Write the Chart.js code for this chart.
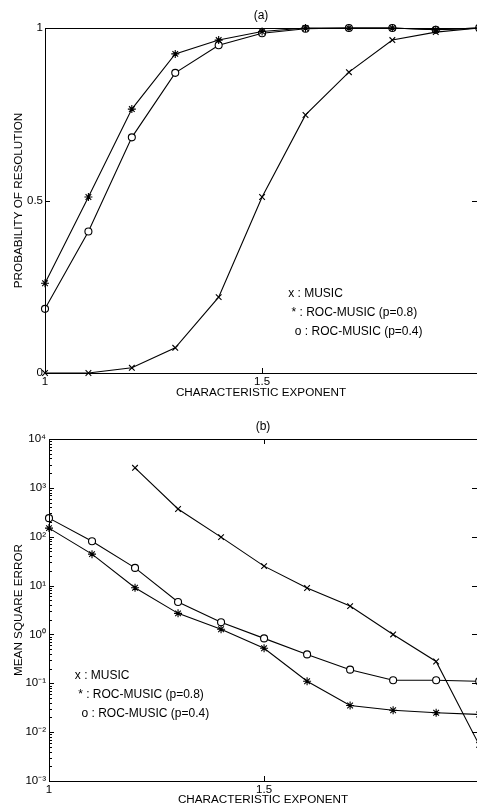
<!DOCTYPE html>
<html>
<head>
<meta charset="utf-8">
<script src="https://cdn.jsdelivr.net/npm/chart.js@4"></script>
<style>
html, body { margin: 0; padding: 0; background: #fff; }
.box { position: relative; width: 477px; height: 404px; }
</style>
</head>
<body>
<div class="box"><canvas id="chartA"></canvas></div>
<div class="box"><canvas id="chartB"></canvas></div>
<script>
// characteristic exponent (x axis)
var alphas = [1.0, 1.1, 1.2, 1.3, 1.4, 1.5, 1.6, 1.7, 1.8, 1.9, 2.0];
var alphaTicks = [1, 1.5];

// (a) probability of resolution
var probMusic = [0, 0, 0.015, 0.073, 0.22, 0.51, 0.748, 0.872, 0.965, 0.988, 1];
var probRoc08 = [0.26, 0.51, 0.765, 0.925, 0.965, 0.99, 1, 1, 1, 0.995, 1];
var probRoc04 = [0.186, 0.41, 0.683, 0.87, 0.95, 0.985, 0.998, 1, 1, 0.995, 1];
var probTicks = [0, 0.5, 1];

// (b) mean square error
var mseMusic = [null, null, 2570, 370, 98, 25, 8.9, 3.8, 1.0, 0.28, 0.0055];
var mseRoc08 = [150, 44, 9, 2.7, 1.28, 0.52, 0.11, 0.035, 0.028, 0.025, 0.023];
var mseRoc04 = [240, 81, 23, 4.6, 1.78, 0.83, 0.39, 0.19, 0.115, 0.115, 0.11];
var mseTicks = [1e-3, 1e-2, 1e-1, 1e0, 1e1, 1e2, 1e3, 1e4];
var mseTickLabels = ["10\u207B\u00B3", "10\u207B\u00B2", "10\u207B\u00B9", "10\u2070", "10\u00B9", "10\u00B2", "10\u00B3", "10\u2074"];

var legendLines = ["x : MUSIC", " * : ROC-MUSIC (p=0.8)", "  o : ROC-MUSIC (p=0.4)"];

var FONT = "'Liberation Sans', Arial, sans-serif";
Chart.defaults.font.family = FONT;
Chart.defaults.color = "#000";

function pts(ys) {
  return alphas.map(function(a, i) { return { x: a, y: ys[i] }; });
}

function series(label, ys, style, r) {
  return {
    label: label,
    data: pts(ys),
    borderColor: "#000",
    borderWidth: 1.1,
    pointStyle: style,
    pointRadius: r,
    pointBorderColor: "#000",
    pointBackgroundColor: "#fff",
    pointBorderWidth: 1.1,
    pointHoverRadius: r,
    tension: 0,
    clip: false,
    spanGaps: false
  };
}

// frame, inner ticks, panel label and text legend
function decorations(title, legX, legY) {
  return {
    id: "decor",
    afterDraw: function(chart) {
      var ctx = chart.ctx, a = chart.chartArea;
      var xs = chart.scales.x, ys = chart.scales.y;
      ctx.save();
      ctx.strokeStyle = "#000";
      ctx.lineWidth = 1;
      ctx.strokeRect(a.left + 0.5, a.top + 0.5, a.right - a.left, a.bottom - a.top);
      ctx.beginPath();
      xs.ticks.forEach(function(t) {
        var px = Math.round(xs.getPixelForValue(t.value)) + 0.5;
        ctx.moveTo(px, a.bottom); ctx.lineTo(px, a.bottom - 5);
        ctx.moveTo(px, a.top); ctx.lineTo(px, a.top + 5);
      });
      ys.ticks.forEach(function(t) {
        var py = Math.round(ys.getPixelForValue(t.value)) + 0.5;
        ctx.moveTo(a.left, py); ctx.lineTo(a.left + 5, py);
        ctx.moveTo(a.right, py); ctx.lineTo(a.right - 5, py);
      });
      if (ys.type === "logarithmic") {
        for (var d = -3; d < 4; d++) {
          for (var m = 2; m < 10; m++) {
            var py = Math.round(ys.getPixelForValue(m * Math.pow(10, d))) + 0.5;
            ctx.moveTo(a.left, py); ctx.lineTo(a.left + 3, py);
          }
        }
      }
      ctx.stroke();

      ctx.fillStyle = "#000";
      ctx.font = "12px " + FONT;
      ctx.textAlign = "center";
      ctx.textBaseline = "alphabetic";
      ctx.fillText(title, (a.left + a.right) / 2, a.top - 9);

      ctx.font = "12px " + FONT;
      ctx.textAlign = "left";
      var lx = xs.getPixelForValue(legX), ly = ys.getPixelForValue(legY);
      legendLines.forEach(function(s, i) {
        ctx.fillText(s, lx, ly + i * 19);
      });
      ctx.restore();
    }
  };
}

function xScale(titlePad, h) {
  return {
    type: "linear",
    min: 1,
    max: 1.995,
    afterBuildTicks: function(s) { s.ticks = alphaTicks.map(function(v) { return { value: v }; }); },
    afterFit: function(s) { s.height = h; },
    ticks: {
      font: { size: 11.5 },
      padding: 2,
      maxRotation: 0,
      callback: function(v) { return String(v); }
    },
    grid: { display: false, drawTicks: false },
    border: { display: false },
    title: { display: true, text: "CHARACTERISTIC EXPONENT", font: { size: 11.7 }, padding: { top: 0, bottom: titlePad } }
  };
}

new Chart(document.getElementById("chartA"), {
  type: "line",
  data: {
    datasets: [
      series("MUSIC", probMusic, "crossRot", 4),
      series("ROC-MUSIC (p=0.8)", probRoc08, "star", 4),
      series("ROC-MUSIC (p=0.4)", probRoc04, "circle", 3.5)
    ]
  },
  options: {
    responsive: true,
    maintainAspectRatio: false,
    animation: false,
    layout: { autoPadding: false, padding: { top: 28, right: 0, left: 0, bottom: 0 } },
    plugins: { legend: { display: false }, tooltip: { enabled: false } },
    scales: {
      x: xScale(4, 31),
      y: {
        min: 0,
        max: 1,
        afterBuildTicks: function(s) { s.ticks = probTicks.map(function(v) { return { value: v }; }); },
        afterFit: function(s) { s.width = 45; },
        ticks: { font: { size: 11.5 }, padding: 2, callback: function(v) { return String(v); } },
        grid: { display: false, drawTicks: false },
        border: { display: false },
        title: { display: true, text: "PROBABILITY OF RESOLUTION", font: { size: 11.7 }, padding: { top: 12, bottom: 0 } }
      }
    }
  },
  plugins: [decorations("(a)", 1.56, 0.22)]
});

new Chart(document.getElementById("chartB"), {
  type: "line",
  data: {
    datasets: [
      series("MUSIC", mseMusic, "crossRot", 4),
      series("ROC-MUSIC (p=0.8)", mseRoc08, "star", 4),
      series("ROC-MUSIC (p=0.4)", mseRoc04, "circle", 3.5)
    ]
  },
  options: {
    responsive: true,
    maintainAspectRatio: false,
    animation: false,
    layout: { autoPadding: false, padding: { top: 35, right: 0, left: 0, bottom: 0 } },
    plugins: { legend: { display: false }, tooltip: { enabled: false } },
    scales: {
      x: xScale(1, 27),
      y: {
        type: "logarithmic",
        min: 1e-3,
        max: 1e4,
        afterBuildTicks: function(s) { s.ticks = mseTicks.map(function(v) { return { value: v }; }); },
        afterFit: function(s) { s.width = 49; },
        ticks: {
          font: { size: 11.5 },
          padding: 3,
          callback: function(v) { return mseTickLabels[mseTicks.indexOf(v)]; }
        },
        grid: { display: false, drawTicks: false },
        border: { display: false },
        title: { display: true, text: "MEAN SQUARE ERROR", font: { size: 11.7 }, padding: { top: 12, bottom: 0 } }
      }
    }
  },
  plugins: [decorations("(b)", 1.06, 0.12)]
});
</script>
</body>
</html>
